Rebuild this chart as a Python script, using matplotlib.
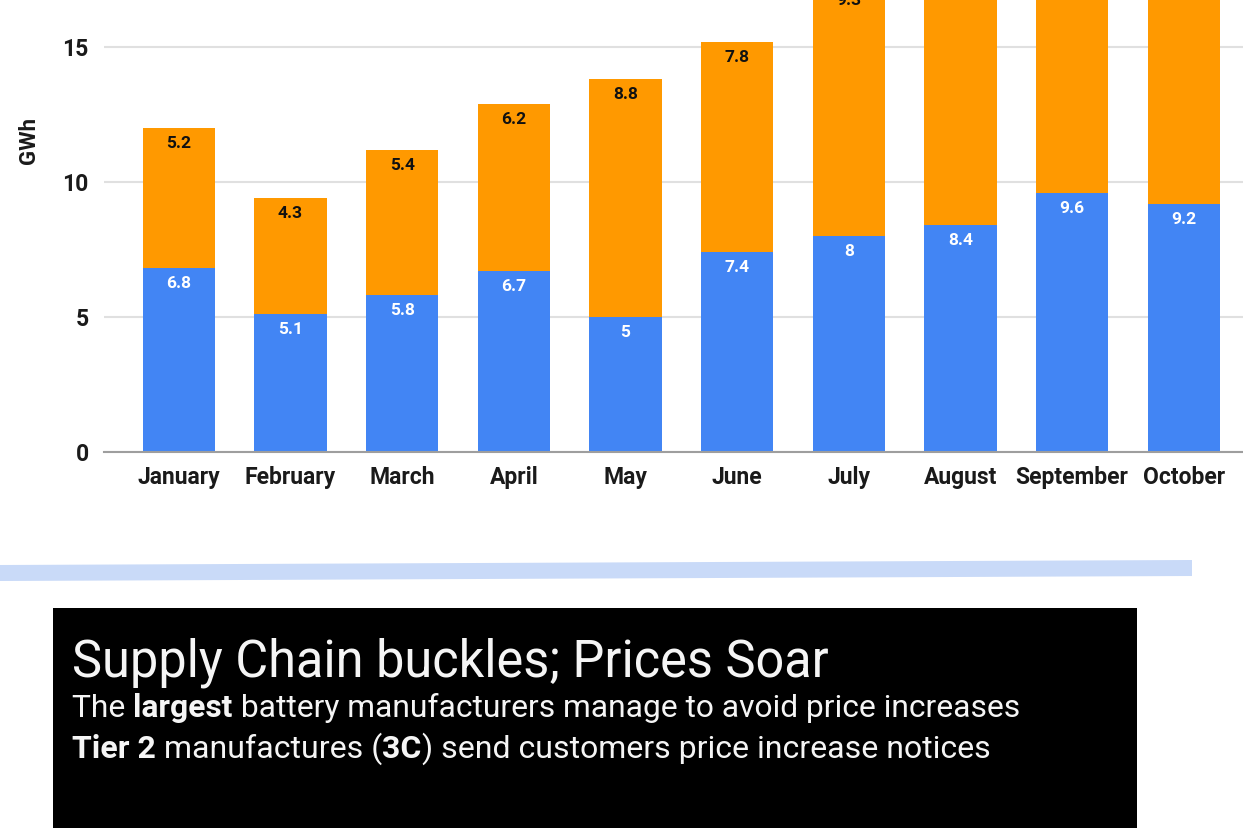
import matplotlib
matplotlib.use("Agg")
import matplotlib.pyplot as plt
from matplotlib.patches import Rectangle, Polygon

plt.rcParams['font.family'] = ['Roboto', 'DejaVu Sans']

months = ['January', 'February', 'March', 'April', 'May', 'June',
          'July', 'August', 'September', 'October']
blue_vals = [6.8, 5.1, 5.8, 6.7, 5.0, 7.4, 8.0, 8.4, 9.6, 9.2]
# last three orange values are cut off in the source, estimated
orange_vals = [5.2, 4.3, 5.4, 6.2, 8.8, 7.8, 9.3, 10.1, 9.0, 9.3]
y_ticks = [0, 5, 10, 15]
y_top = 16.74

title = 'Supply Chain buckles; Prices Soar'
line1 = [('The ', 'normal'), ('largest', 'bold'),
         (' battery manufacturers manage to avoid price increases', 'normal')]
line2 = [('Tier 2', 'bold'), (' manufactures (', 'normal'), ('3C', 'bold'),
         (') send customers price increase notices', 'normal')]

W, H = 1243, 835
fig = plt.figure(figsize=(W / 100, H / 100), dpi=100)


def fx(x):
    return x / W


def fy(y):
    return 1 - y / H


ax = fig.add_axes([fx(104), fy(452), 1 - fx(104), fy(0) - fy(452)])
x = range(len(months))
ax.bar(x, blue_vals, width=0.65, color='#4285f4', zorder=2)
tops = [b + o for b, o in zip(blue_vals, orange_vals)]
ax.bar(x, orange_vals, width=0.65, bottom=blue_vals, color='#ff9900', zorder=2)

for i in x:
    ax.annotate('%g' % blue_vals[i], (i, blue_vals[i]), xytext=(0, -11.2),
                textcoords='offset points', ha='center', va='center', color='white',
                fontsize=12.5, fontweight='bold', annotation_clip=False)
    # labels of bars that run far off the top are not visible in the source
    if tops[i] - 0.55 < y_top + 0.2:
        ax.annotate('%g' % orange_vals[i], (i, tops[i]), xytext=(0, -11.2),
                    textcoords='offset points', ha='center', va='center', color='#111111',
                    fontsize=12.5, fontweight='bold', annotation_clip=False)

ax.set_xlim(-0.67, 9.53)
ax.set_ylim(0, y_top)
ax.set_yticks(y_ticks)
ax.set_xticks(list(x))
ax.set_xticklabels(months)
ax.tick_params(length=0, labelsize=16.5, pad=10)
ax.tick_params(axis='y', pad=11)
for lab in ax.get_xticklabels() + ax.get_yticklabels():
    lab.set_fontweight('bold')
    lab.set_color('#1a1a1a')
ax.grid(axis='y', color='#e0e0e0', lw=1.5, zorder=0)
for s in ['top', 'right', 'left']:
    ax.spines[s].set_visible(False)
ax.spines['bottom'].set_color('#9e9e9e')
ax.spines['bottom'].set_linewidth(1.5)
ax.spines['bottom'].set_zorder(3)
fig.text(fx(29), fy(141), 'GWh', rotation=90, ha='center', va='center',
         fontsize=16, fontweight='bold', color='#1a1a1a')

# light blue stripe
stripe = Polygon([(fx(0), fy(565)), (fx(1192), fy(560)), (fx(1192), fy(576)), (fx(0), fy(581))],
                 closed=True, transform=fig.transFigure, facecolor='#c9daf8', edgecolor='none')
fig.patches.append(stripe)

# black caption box
box = Rectangle((fx(53), fy(828)), fx(1137) - fx(53), fy(608) - fy(828),
                transform=fig.transFigure, facecolor='black', edgecolor='none')
fig.patches.append(box)

fig.text(fx(72), fy(677), title, color='#f5f5f5', fontsize=36.4, fontweight='normal',
         ha='left', va='baseline')

renderer = fig.canvas.get_renderer()


def draw_line(parts, x0, y0, size):
    xp = x0
    for txt, wt in parts:
        t = fig.text(fx(xp), fy(y0), txt, color='#f5f5f5', fontsize=size,
                     fontweight=wt, ha='left', va='baseline')
        bb = t.get_window_extent(renderer=renderer)
        xp = xp + bb.width


draw_line(line1, 72, 717, 22.9)
draw_line(line2, 72, 758, 23)

fig.savefig('out.png', dpi=100)
